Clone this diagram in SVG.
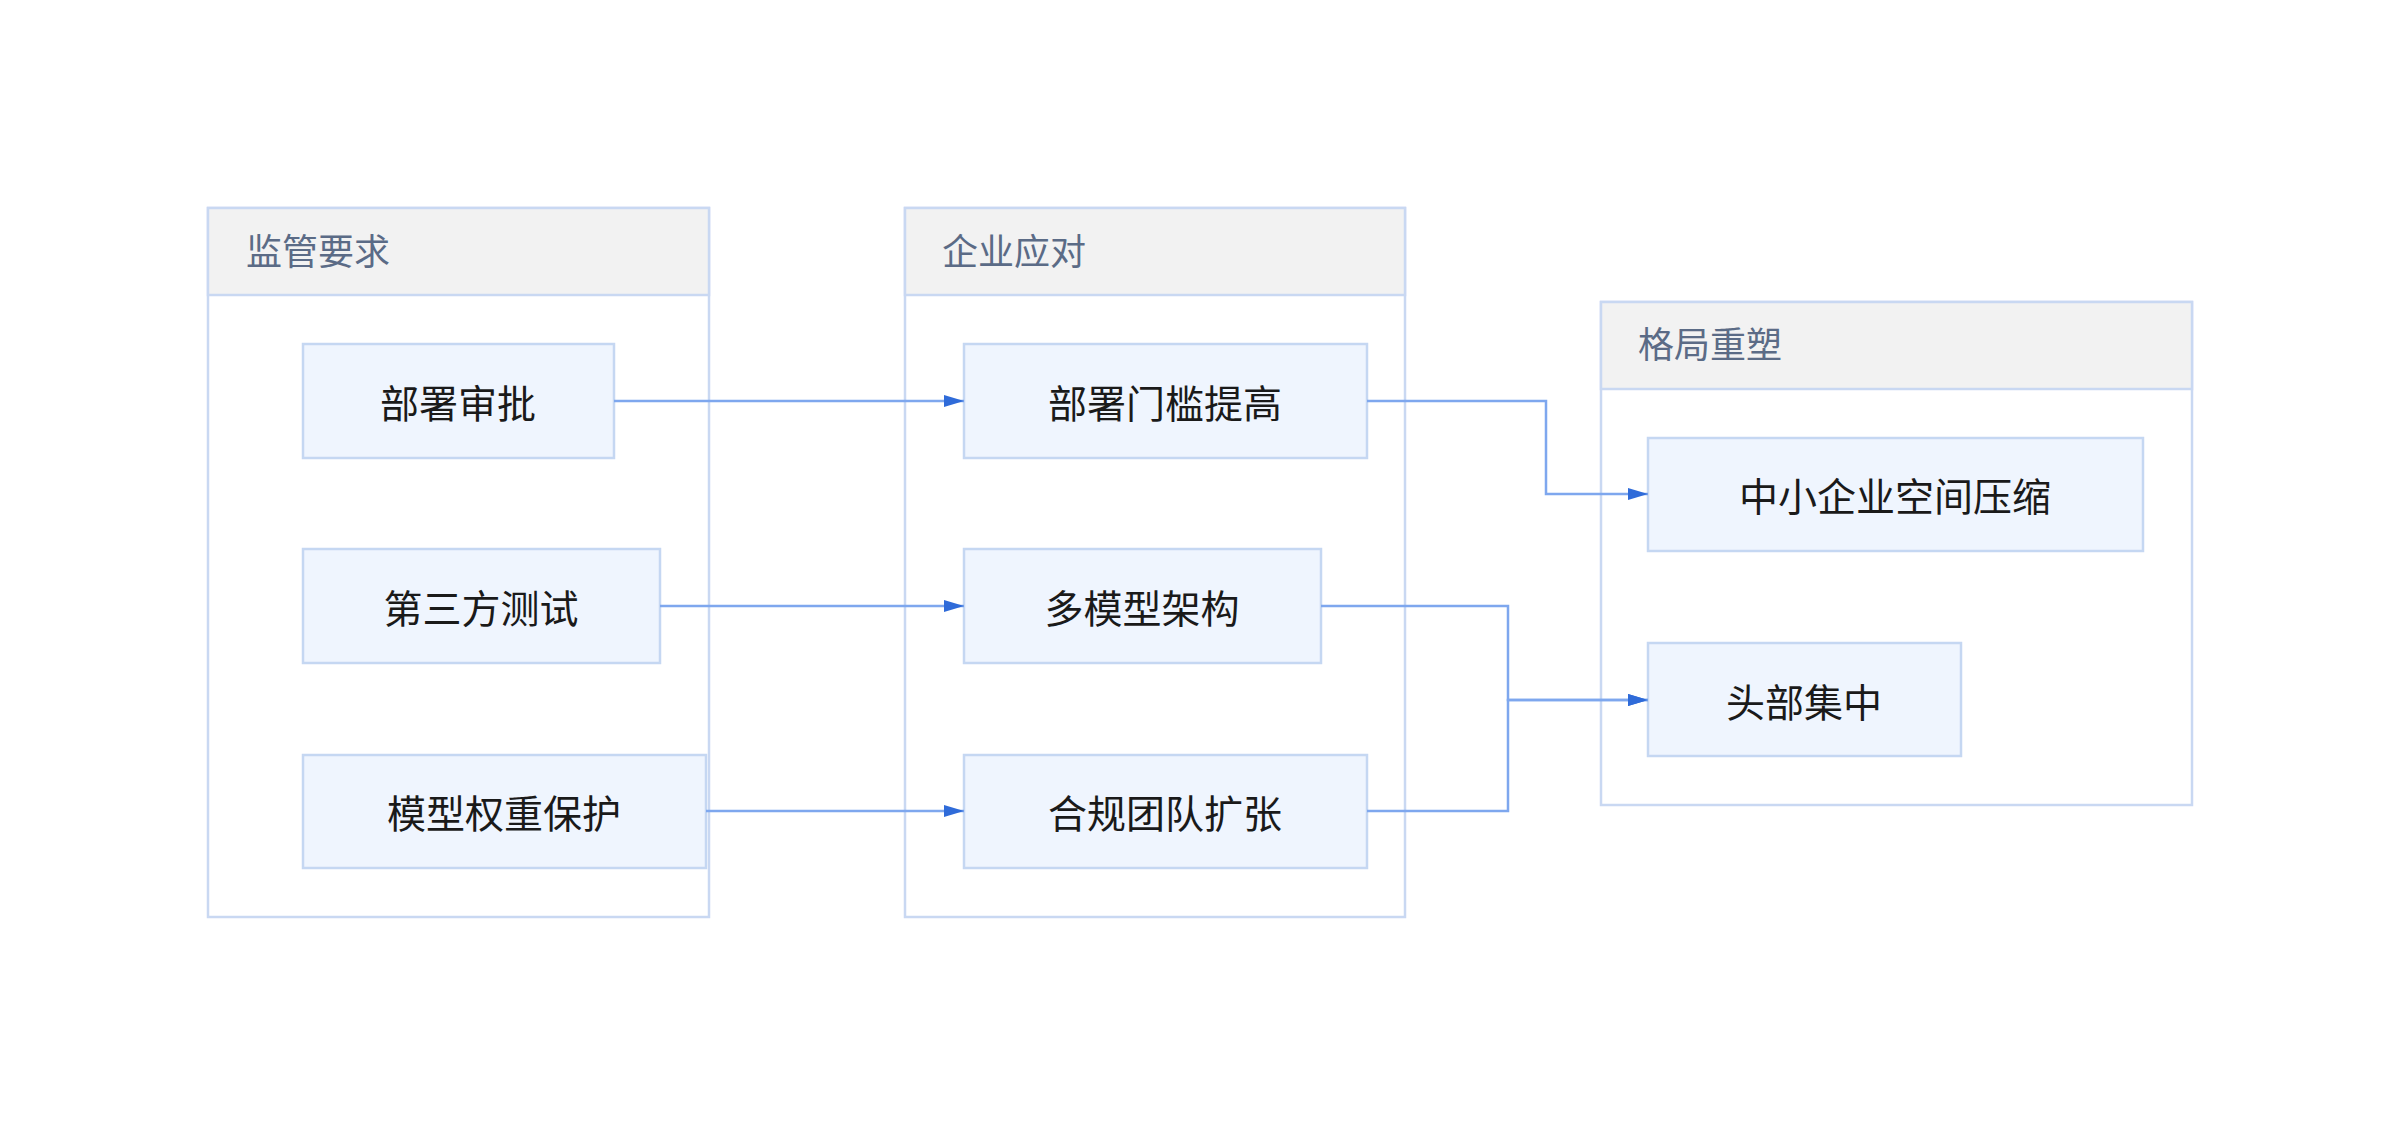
<svg xmlns="http://www.w3.org/2000/svg" width="2400" height="1126" viewBox="0 0 2400 1126">
<style>
.grp{fill:#fff;stroke:#c9d8f2;stroke-width:2.5}
.hdr{fill:#f2f2f2;stroke:#c9d8f2;stroke-width:2.5}
.ht{font-family:"Noto Sans CJK SC","Noto Sans",sans-serif;font-size:36px;fill:#5b6b86}
.nd{fill:#eff5fe;stroke:#c5d7f2;stroke-width:2.5}
.nt{font-family:"Noto Sans CJK SC","Noto Sans",sans-serif;font-size:39px;fill:#1a1a1a;text-anchor:middle;dominant-baseline:central}
.ln{fill:none;stroke:#7ea7ee;stroke-width:2.5}
</style>
<defs><marker id="ar" viewBox="0 0 10 10" refX="10" refY="5" markerWidth="8" markerHeight="8" markerUnits="userSpaceOnUse" orient="auto"><path d="M0,1L10,5L0,9z" fill="#2f6bd9"/></marker>
<marker id="a" viewBox="0 0 20 12" refX="20" refY="6" markerWidth="20" markerHeight="12" markerUnits="userSpaceOnUse" orient="auto"><path d="M0,0L20,6L0,12z" fill="#2f6bd9"/></marker></defs>
<rect width="2400" height="1126" fill="#fff"/>
<g id="g1"><rect class="grp" x="208" y="208" width="501" height="709"/><rect class="hdr" x="208" y="208" width="501" height="87"/><text class="ht" x="246" y="265">监管要求</text></g>
<g id="g2"><rect class="grp" x="905" y="208" width="500" height="709"/><rect class="hdr" x="905" y="208" width="500" height="87"/><text class="ht" x="942" y="265">企业应对</text></g>
<g id="g3"><rect class="grp" x="1601" y="302" width="591" height="503"/><rect class="hdr" x="1601" y="302" width="591" height="87"/><text class="ht" x="1638" y="358">格局重塑</text></g>
<g id="n1"><rect class="nd" x="303" y="344" width="311" height="114"/><text class="nt" x="458" y="401">部署审批</text></g>
<g id="n2"><rect class="nd" x="303" y="549" width="357" height="114"/><text class="nt" x="481" y="606">第三方测试</text></g>
<g id="n3"><rect class="nd" x="303" y="755" width="403" height="113"/><text class="nt" x="504" y="811">模型权重保护</text></g>
<g id="n4"><rect class="nd" x="964" y="344" width="403" height="114"/><text class="nt" x="1165" y="401">部署门槛提高</text></g>
<g id="n5"><rect class="nd" x="964" y="549" width="357" height="114"/><text class="nt" x="1142" y="606">多模型架构</text></g>
<g id="n6"><rect class="nd" x="964" y="755" width="403" height="113"/><text class="nt" x="1165" y="811">合规团队扩张</text></g>
<g id="n7"><rect class="nd" x="1648" y="438" width="495" height="113"/><text class="nt" x="1895" y="494">中小企业空间压缩</text></g>
<g id="n8"><rect class="nd" x="1648" y="643" width="313" height="113"/><text class="nt" x="1804" y="700">头部集中</text></g>
<g id="edges">
<path class="ln" marker-end="url(#a)" d="M614,401H964"/>
<path class="ln" marker-end="url(#a)" d="M660,606H964"/>
<path class="ln" marker-end="url(#a)" d="M706,811H964"/>
<path class="ln" marker-end="url(#a)" d="M1367,401H1546V494H1648"/>
<path class="ln" marker-end="url(#a)" d="M1321,606H1508V700H1648"/>
<path class="ln" marker-end="url(#a)" d="M1367,811H1508V700H1648"/>
</g>
</svg>
